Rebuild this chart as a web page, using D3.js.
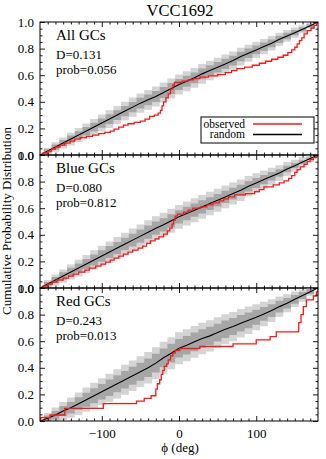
<!DOCTYPE html>
<html>
<head>
<meta charset="utf-8">
<script src="https://cdn.jsdelivr.net/npm/d3@7"></script>
<style>
  body { margin: 0; background: #fff; }
  svg { display: block; }
  text { font-family: "Liberation Serif", "Times New Roman", serif; fill: #000; }
</style>
</head>
<body>
<svg id="chart" width="326" height="459"></svg>
<script>
// bin centres of the random-sample envelopes (deg)
const phiGrid = d3.range(-180, 181, 10);

// median of random samples, per panel
const allMedian = [
  0, 0.03, 0.06, 0.09, 0.12, 0.15, 0.18, 0.21, 0.24, 0.27,
  0.30, 0.33, 0.36, 0.39, 0.415, 0.44, 0.47, 0.50, 0.53, 0.555,
  0.58, 0.61, 0.635, 0.66, 0.685, 0.71, 0.74, 0.765, 0.79, 0.815,
  0.84, 0.87, 0.895, 0.92, 0.945, 0.972, 1.0
];
const blueMedian = [
  0, 0.03, 0.06, 0.09, 0.12, 0.15, 0.18, 0.21, 0.24, 0.27,
  0.30, 0.33, 0.36, 0.39, 0.42, 0.45, 0.475, 0.505, 0.535, 0.56,
  0.585, 0.61, 0.635, 0.66, 0.685, 0.71, 0.735, 0.765, 0.79, 0.815,
  0.84, 0.865, 0.895, 0.92, 0.947, 0.973, 1.0
];
const redMedian = [
  0, 0.02, 0.045, 0.075, 0.10, 0.13, 0.16, 0.19, 0.22, 0.25,
  0.28, 0.31, 0.34, 0.37, 0.40, 0.435, 0.475, 0.51, 0.547, 0.57,
  0.595, 0.62, 0.64, 0.665, 0.69, 0.71, 0.735, 0.757, 0.78, 0.805,
  0.83, 0.86, 0.885, 0.915, 0.943, 0.972, 1.0
];

// half widths of the envelopes (outer = light grey, inner = dark grey)
const allOuter = [
  0, 0.025, 0.035, 0.042, 0.048, 0.053, 0.057, 0.061, 0.064, 0.067,
  0.069, 0.071, 0.072, 0.073, 0.074, 0.075, 0.075, 0.075, 0.075, 0.075,
  0.075, 0.074, 0.073, 0.072, 0.071, 0.069, 0.067, 0.064, 0.061, 0.058,
  0.054, 0.049, 0.044, 0.038, 0.030, 0.020, 0
];
const allInner = [
  0, 0.013, 0.019, 0.023, 0.026, 0.029, 0.031, 0.033, 0.035, 0.036,
  0.037, 0.038, 0.039, 0.040, 0.040, 0.041, 0.041, 0.041, 0.041, 0.041,
  0.041, 0.040, 0.040, 0.039, 0.038, 0.037, 0.036, 0.035, 0.033, 0.031,
  0.029, 0.027, 0.024, 0.020, 0.016, 0.011, 0
];
const blueOuter = [
  0, 0.030, 0.042, 0.050, 0.057, 0.063, 0.068, 0.073, 0.077, 0.080,
  0.083, 0.085, 0.087, 0.088, 0.089, 0.090, 0.090, 0.090, 0.090, 0.090,
  0.090, 0.089, 0.088, 0.087, 0.085, 0.083, 0.080, 0.077, 0.073, 0.069,
  0.064, 0.058, 0.052, 0.045, 0.036, 0.025, 0
];
const blueInner = [
  0, 0.016, 0.023, 0.028, 0.032, 0.035, 0.038, 0.041, 0.043, 0.045,
  0.046, 0.047, 0.048, 0.049, 0.050, 0.050, 0.050, 0.050, 0.050, 0.050,
  0.050, 0.049, 0.048, 0.047, 0.046, 0.044, 0.042, 0.040, 0.038, 0.035,
  0.032, 0.028, 0.024, 0.019, 0.013, 0.008, 0
];
const redOuter = [
  0, 0.040, 0.056, 0.067, 0.076, 0.084, 0.091, 0.097, 0.102, 0.106,
  0.110, 0.113, 0.115, 0.117, 0.118, 0.119, 0.120, 0.120, 0.120, 0.120,
  0.120, 0.119, 0.118, 0.116, 0.113, 0.110, 0.107, 0.103, 0.098, 0.092,
  0.085, 0.077, 0.068, 0.058, 0.046, 0.032, 0
];
const redInner = [
  0, 0.022, 0.031, 0.038, 0.043, 0.048, 0.052, 0.056, 0.059, 0.062,
  0.064, 0.066, 0.067, 0.068, 0.069, 0.070, 0.070, 0.070, 0.070, 0.070,
  0.070, 0.069, 0.068, 0.067, 0.066, 0.064, 0.062, 0.059, 0.056, 0.052,
  0.048, 0.044, 0.039, 0.033, 0.026, 0.018, 0
];

// observed cumulative distributions (step vertices)
const allObsPhi = [
  -180, -176, -170, -165, -160, -154, -148, -141, -135, -128,
  -120, -112, -104, -96, -89, -84, -78, -72, -66, -58,
  -50, -44, -38, -32, -27, -24, -22, -20, -17, -14,
  -11, -8, -6, 4, 12, 19, 27, 38, 50, 60,
  68, 75, 85, 95, 104, 112, 120, 128, 135, 141,
  146, 150, 153, 156, 159, 162, 166, 171, 175, 178, 180
];
const allObsF = [
  0, 0.015, 0.03, 0.045, 0.06, 0.075, 0.09, 0.105, 0.12, 0.13,
  0.14, 0.15, 0.16, 0.17, 0.18, 0.195, 0.21, 0.225, 0.235, 0.245,
  0.255, 0.27, 0.29, 0.30, 0.315, 0.335, 0.37, 0.40, 0.43, 0.46,
  0.495, 0.525, 0.545, 0.555, 0.565, 0.575, 0.585, 0.595, 0.605, 0.62,
  0.635, 0.65, 0.66, 0.675, 0.69, 0.705, 0.72, 0.735, 0.75, 0.77,
  0.79, 0.81, 0.835, 0.86, 0.88, 0.91, 0.935, 0.955, 0.975, 0.99, 1.0
];
const blueObsPhi = [
  -180, -176, -170, -164, -158, -150, -143, -137, -130, -122,
  -116, -108, -101, -95, -89, -84, -78, -72, -66, -60,
  -53, -47, -42, -37, -31, -26, -20, -15, -12, -9,
  -7, -5, -2, 6, 12, 18, 28, 36, 44, 52,
  58, 64, 72, 86, 98, 104, 110, 122, 130, 136,
  142, 146, 150, 153, 157, 162, 166, 170, 174, 178, 180
];
const blueObsF = [
  0, 0.015, 0.03, 0.045, 0.06, 0.075, 0.09, 0.105, 0.12, 0.135,
  0.15, 0.165, 0.18, 0.195, 0.21, 0.225, 0.24, 0.255, 0.27, 0.285,
  0.30, 0.315, 0.335, 0.355, 0.37, 0.385, 0.405, 0.43, 0.45, 0.48,
  0.51, 0.54, 0.555, 0.57, 0.585, 0.60, 0.61, 0.625, 0.64, 0.655,
  0.67, 0.685, 0.70, 0.71, 0.725, 0.74, 0.76, 0.775, 0.79, 0.805,
  0.825, 0.845, 0.87, 0.89, 0.91, 0.93, 0.95, 0.965, 0.98, 0.99, 1.0
];
const redObsPhi = [
  -180, -179, -167, -148, -98, -55, -45, -36, -30, -28,
  -25, -23, -21, -19, -16, -14, -11, -8, -5, 1,
  27, 70, 100, 118, 126, 155, 158, 161, 165, 174, 178, 180
];
const redObsF = [
  0, 0.025, 0.045, 0.095, 0.13, 0.15, 0.17, 0.19, 0.24, 0.28,
  0.31, 0.35, 0.38, 0.41, 0.43, 0.46, 0.49, 0.51, 0.53, 0.545,
  0.56, 0.58, 0.61, 0.635, 0.67, 0.74, 0.80, 0.86, 0.91, 0.94, 0.97, 1.0
];

const panels = [
  { name: "All GCs", D: "D=0.131", prob: "prob=0.056", median: allMedian, outer: allOuter, inner: allInner, obsPhi: allObsPhi, obsF: allObsF },
  { name: "Blue GCs", D: "D=0.080", prob: "prob=0.812", median: blueMedian, outer: blueOuter, inner: blueInner, obsPhi: blueObsPhi, obsF: blueObsF },
  { name: "Red GCs", D: "D=0.243", prob: "prob=0.013", median: redMedian, outer: redOuter, inner: redInner, obsPhi: redObsPhi, obsF: redObsF }
];

const xMajor = [-100, 0, 100];
const xMinor = d3.range(-170, 180, 10).filter(function (v) { return v % 100 !== 0; });
const yMajor = [0, 0.2, 0.4, 0.6, 0.8, 1.0];
const yMinor = d3.range(0.05, 1, 0.05).filter(function (v) { return Math.abs(v * 5 - Math.round(v * 5)) > 1e-6; });

const left = 40, right = 318, top0 = 22, panelH = 133;
const majorLen = 5, minorLen = 2.5;
const serif = "'Liberation Serif', 'Times New Roman', serif";

const svg = d3.select("#chart");
const x = d3.scaleLinear().domain([-180, 180]).range([left, right]);

svg.append("text")
  .attr("x", 180).attr("y", 16)
  .attr("text-anchor", "middle")
  .style("font-size", "16.5px")
  .text("VCC1692");

panels.forEach(function (p, i) {
  var top = top0 + i * panelH;
  var y = d3.scaleLinear().domain([0, 1]).range([top + panelH, top]);
  var g = svg.append("g");

  g.append("defs").append("clipPath").attr("id", "clip" + i)
    .append("rect").attr("x", left).attr("y", top)
    .attr("width", right - left).attr("height", panelH);

  var plot = g.append("g").attr("clip-path", "url(#clip" + i + ")");

  function band(widths) {
    return d3.area()
      .x(function (d, k) { return x(phiGrid[k]); })
      .y0(function (d, k) { return y(Math.max(0, p.median[k] - widths[k])); })
      .y1(function (d, k) { return y(Math.min(1, p.median[k] + widths[k])); })
      .curve(d3.curveStep);
  }

  plot.append("path").attr("d", band(p.outer)(p.median)).attr("fill", "#d4d4d4");
  plot.append("path").attr("d", band(p.inner)(p.median)).attr("fill", "#a6a6a6");

  var medLine = d3.line()
    .x(function (d, k) { return x(phiGrid[k]); })
    .y(function (d) { return y(d); });
  plot.append("path").attr("d", medLine(p.median))
    .attr("fill", "none").attr("stroke", "#000").attr("stroke-width", 1.1);

  var obsLine = d3.line()
    .x(function (d) { return x(d); })
    .y(function (d, k) { return y(p.obsF[k]); })
    .curve(d3.curveStepAfter);
  plot.append("path").attr("d", obsLine(p.obsPhi))
    .attr("fill", "none").attr("stroke", "#f01c1c").attr("stroke-width", 1.3);

  // axes: ticks pointing inward on all four sides
  function clean(sel) {
    sel.select(".domain").remove();
    sel.attr("font-family", serif).attr("font-size", 13);
  }

  g.append("g").attr("transform", "translate(" + left + ",0)")
    .call(d3.axisLeft(y).tickValues(yMajor).tickSize(-majorLen).tickPadding(6).tickFormat(d3.format(".1f")))
    .call(clean);
  g.append("g").attr("transform", "translate(" + left + ",0)")
    .call(d3.axisLeft(y).tickValues(yMinor).tickSize(-minorLen).tickFormat("")).call(clean);
  g.append("g").attr("transform", "translate(" + right + ",0)")
    .call(d3.axisRight(y).tickValues(yMajor).tickSize(-majorLen).tickFormat("")).call(clean);
  g.append("g").attr("transform", "translate(" + right + ",0)")
    .call(d3.axisRight(y).tickValues(yMinor).tickSize(-minorLen).tickFormat("")).call(clean);

  g.append("g").attr("transform", "translate(0," + top + ")")
    .call(d3.axisTop(x).tickValues(xMajor).tickSize(-majorLen).tickFormat("")).call(clean);
  g.append("g").attr("transform", "translate(0," + top + ")")
    .call(d3.axisTop(x).tickValues(xMinor).tickSize(-minorLen).tickFormat("")).call(clean);

  var xb = d3.axisBottom(x).tickValues(xMajor).tickSize(-majorLen).tickPadding(8);
  if (i < panels.length - 1) xb.tickFormat("");
  g.append("g").attr("transform", "translate(0," + (top + panelH) + ")")
    .call(xb).call(clean);
  g.append("g").attr("transform", "translate(0," + (top + panelH) + ")")
    .call(d3.axisBottom(x).tickValues(xMinor).tickSize(-minorLen).tickFormat("")).call(clean);

  g.selectAll(".tick line").attr("stroke", "#000").attr("stroke-width", 0.9);

  g.append("rect")
    .attr("x", left).attr("y", top)
    .attr("width", right - left).attr("height", panelH)
    .attr("fill", "none").attr("stroke", "#000").attr("stroke-width", 1);

  g.append("text").attr("x", 56).attr("y", top + 18)
    .style("font-size", "15px").text(p.name);
  g.append("text").attr("x", 56).attr("y", top + 37)
    .style("font-size", "13px").text(p.D);
  g.append("text").attr("x", 56).attr("y", top + 52)
    .style("font-size", "13px").text(p.prob);
});

// legend in the first panel
const legend = svg.append("g");
legend.append("rect")
  .attr("x", 201).attr("y", 117).attr("width", 113).attr("height", 26)
  .attr("fill", "#fff").attr("stroke", "#000").attr("stroke-width", 1);
legend.append("text").attr("x", 245).attr("y", 127.5).attr("text-anchor", "end")
  .style("font-size", "11.5px").text("observed");
legend.append("text").attr("x", 245).attr("y", 138).attr("text-anchor", "end")
  .style("font-size", "11.5px").text("random");
legend.append("line").attr("x1", 253).attr("x2", 302).attr("y1", 124).attr("y2", 124)
  .attr("stroke", "#f01c1c").attr("stroke-width", 1.3);
legend.append("line").attr("x1", 253).attr("x2", 302).attr("y1", 134.5).attr("y2", 134.5)
  .attr("stroke", "#000").attr("stroke-width", 1.3);

svg.append("text")
  .attr("transform", "translate(11,221) rotate(-90)")
  .attr("text-anchor", "middle")
  .style("font-size", "13px")
  .text("Cumulative Probability Distribution");

svg.append("text")
  .attr("x", 180).attr("y", 452)
  .attr("text-anchor", "middle")
  .style("font-size", "13px")
  .text("\u03d5 (deg)");
</script>
</body>
</html>
